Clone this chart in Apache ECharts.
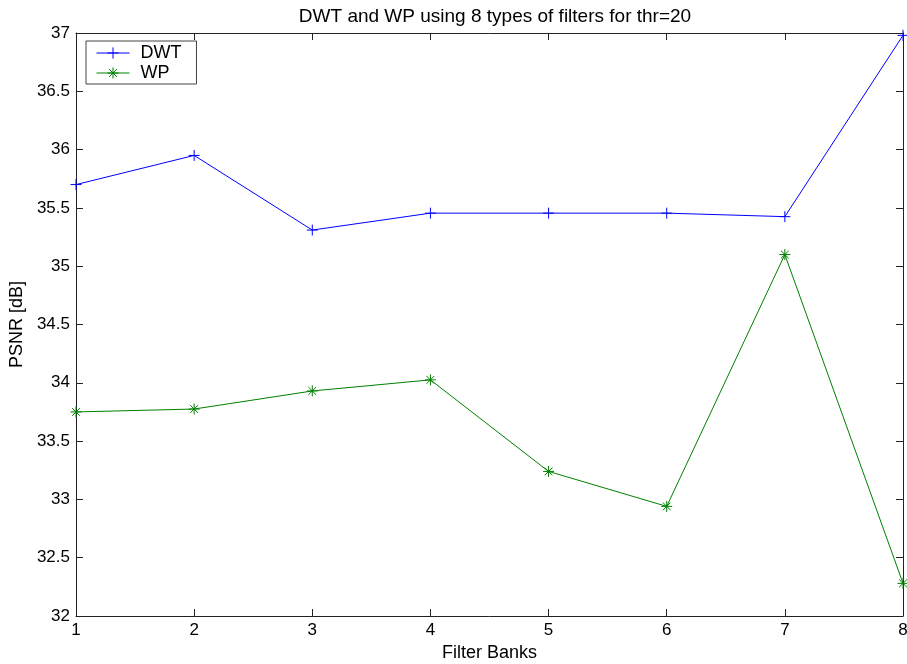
<!DOCTYPE html>
<html>
<head>
<meta charset="utf-8">
<script src="https://cdn.jsdelivr.net/npm/echarts@6/dist/echarts.min.js"></script>
<style>
    html, body { margin: 0; padding: 0; background: #fff; }
    #chart { width: 907px; height: 664px; }
</style>
</head>
<body>
<div id="chart"></div>
<script>
    // filter bank index on x, PSNR in dB on y
    var filterBanks = [1, 2, 3, 4, 5, 6, 7, 8];
    var dwt = [35.70, 35.95, 35.31, 35.455, 35.455, 35.455, 35.425, 36.98];
    var wp  = [33.75, 33.775, 33.93, 34.025, 33.24, 32.94, 35.10, 32.28];

    var plusMark = 'path://M5,0L5,10M0,5L10,5';
    var starMark = 'path://M5,0L5,10M0,5L10,5M1.5,1.5L8.5,8.5M1.5,8.5L8.5,1.5';
    var font = 'Liberation Sans, Arial, Helvetica, sans-serif';
    var axisColor = '#222';

    function pairs(xs, ys) {
        return xs.map(function (x, i) { return [x, ys[i]]; });
    }

    var myChart = echarts.init(document.getElementById('chart'));
    var option = {
        backgroundColor: '#fff',
        animation: false,
        title: {
            text: 'DWT and WP using 8 types of filters for thr=20',
            left: 490,
            top: 2,
            textAlign: 'center',
            textStyle: { fontFamily: font, fontSize: 19, fontWeight: 'normal', color: '#000' }
        },
        legend: {
            orient: 'vertical',
            left: 86,
            top: 41,
            padding: [3, 15, 2, 10],
            itemWidth: 33,
            itemHeight: 14,
            itemGap: 2,
            borderColor: '#444',
            borderWidth: 1,
            backgroundColor: '#fff',
            lineStyle: { width: 1 },
            itemStyle: { borderWidth: 1 },
            textStyle: { fontFamily: font, fontSize: 18, lineHeight: 18, color: '#000', padding: [0, 0, 0, 6] },
            data: ['DWT', 'WP']
        },
        grid: { left: 76, right: 4, top: 33, bottom: 48, outerBoundsMode: 'none' },
        xAxis: [
            {
                type: 'value', min: 1, max: 8, interval: 1,
                name: 'Filter Banks', nameLocation: 'middle', nameGap: 28,
                nameTextStyle: { fontFamily: font, fontSize: 18, color: '#000' },
                axisLine: { lineStyle: { color: axisColor } },
                axisTick: { inside: true, length: 7, lineStyle: { color: axisColor } },
                axisLabel: { fontFamily: font, fontSize: 17, color: '#000', margin: 6 },
                splitLine: { show: false }
            },
            {
                type: 'value', min: 1, max: 8, interval: 1, position: 'top',
                axisLine: { lineStyle: { color: axisColor } },
                axisTick: { inside: true, length: 7, lineStyle: { color: axisColor } },
                axisLabel: { show: false },
                splitLine: { show: false }
            }
        ],
        yAxis: [
            {
                type: 'value', min: 32, max: 37, interval: 0.5,
                name: 'PSNR [dB]', nameLocation: 'middle', nameGap: 43,
                nameTextStyle: { fontFamily: font, fontSize: 18, color: '#000' },
                axisLine: { show: true, lineStyle: { color: axisColor } },
                axisTick: { show: true, inside: true, length: 7, lineStyle: { color: axisColor } },
                axisLabel: { fontFamily: font, fontSize: 17, color: '#000', margin: 6 },
                splitLine: { show: false }
            },
            {
                type: 'value', min: 32, max: 37, interval: 0.5, position: 'right',
                axisLine: { show: true, lineStyle: { color: axisColor } },
                axisTick: { show: true, inside: true, length: 7, lineStyle: { color: axisColor } },
                axisLabel: { show: false },
                splitLine: { show: false }
            }
        ],
        series: [
            {
                name: 'DWT',
                type: 'line',
                data: pairs(filterBanks, dwt),
                symbol: plusMark,
                symbolSize: 11,
                clip: false,
                lineStyle: { color: '#0000ff', width: 1 },
                itemStyle: { color: 'rgba(0,0,0,0)', borderColor: '#0000ff', borderWidth: 1 }
            },
            {
                name: 'WP',
                type: 'line',
                data: pairs(filterBanks, wp),
                symbol: starMark,
                symbolSize: 11,
                clip: false,
                lineStyle: { color: '#008000', width: 1 },
                itemStyle: { color: 'rgba(0,0,0,0)', borderColor: '#008000', borderWidth: 1 }
            }
        ]
    };
    myChart.setOption(option);
</script>
</body>
</html>
